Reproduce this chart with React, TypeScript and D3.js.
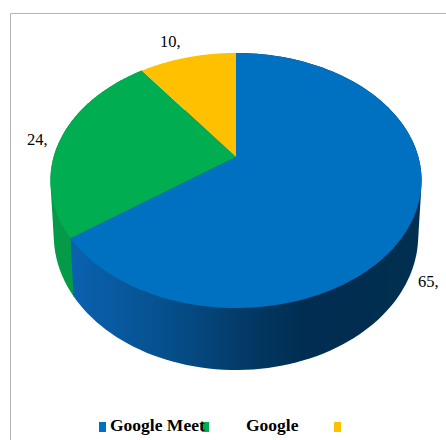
import React from "react";
import * as d3 from "d3";

const categories = ["Google Meet", "Google", ""];
const values = [65, 24.9, 10.1];
const labels = ["65,", "24,", "10,"];
const colors = ["#0070C0", "#00AD50", "#FFC000"];
const sideGreen = "#059A48";

const cx = 236, cy = 157, rx = 182.4, ry = 123.2, k = -0.184;
const depthY = 53.4, scaleX = 0.982, scaleY = 1.057;

const project = (a: number): [number, number] => {
  const u = Math.sin(a), v = -Math.cos(a), w = 1 + k * v;
  return [cx + (rx * u) / w, cy + (ry * v) / w];
};
const projectBottom = (a: number): [number, number] => {
  const [x, y] = project(a);
  return [cx + (x - cx) * scaleX, cy + depthY + (y - cy) * scaleY];
};
const arcPoints = (a0: number, a1: number, f: (a: number) => [number, number]) =>
  d3.range(0, 121).map((i) => f(a0 + ((a1 - a0) * i) / 120));

const slices = d3.pie<number>().sort(null)(values);
const line = d3.line().curve(d3.curveLinearClosed);

const blueStops: [number, string][] = [
  [0, "#0A62B0"], [0.15, "#08589E"], [0.32, "#054C85"], [0.5, "#033A66"],
  [0.66, "#002E52"], [0.8, "#002D50"], [1, "#00304F"],
];

export default function App() {
  const faces = slices.map((s) => {
    const pts = arcPoints(s.startAngle, s.endAngle, project);
    return line([[cx, cy], ...pts]) as string;
  });
  const hull = (s: d3.PieArcDatum<number>) =>
    line(
      d3.polygonHull([
        ...arcPoints(s.startAngle, s.endAngle, project),
        ...arcPoints(s.startAngle, s.endAngle, projectBottom),
      ]) as [number, number][]
    ) as string;

  return (
    <svg width={446} height={440} style={{ position: "absolute", left: 0, top: 0 }}>
      <defs>
        <linearGradient id="blueSide" gradientUnits="userSpaceOnUse" x1={70} y1={0} x2={420} y2={0}>
          {blueStops.map(([o, c]) => (
            <stop key={o} offset={o} stopColor={c} />
          ))}
        </linearGradient>
      </defs>
      <path d="M10.5,440V13.5H446" fill="none" stroke="#b5b5b5" strokeWidth={1} />
      <path d={hull(slices[1])} fill={sideGreen} />
      <path d={hull(slices[0])} fill="url(#blueSide)" />
      {faces.map((d, i) => (
        <path key={i} d={d} fill={colors[i]} />
      ))}
      <g fontFamily="'Liberation Serif'" fontSize={16.5} fill="#000">
        <text x={418} y={287}>{labels[0]}</text>
        <text x={27} y={145}>{labels[1]}</text>
        <text x={160} y={47}>{labels[2]}</text>
      </g>
      <g fontFamily="'Liberation Serif'" fontSize={17.5} fontWeight="bold" fill="#000">
        <rect x={99} y={422} width={7} height={10} fill={colors[0]} />
        <rect x={202} y={422} width={7} height={10} fill={colors[1]} />
        <rect x={334} y={422} width={7} height={10} fill={colors[2]} />
        <text x={110} y={431}>{categories[0]}</text>
        <text x={246} y={431}>{categories[1]}</text>
      </g>
    </svg>
  );
}
